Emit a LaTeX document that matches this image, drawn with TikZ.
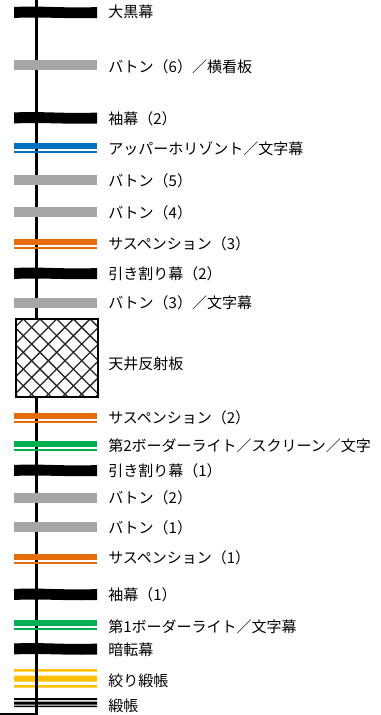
\documentclass[tikz,border=0pt]{standalone}
\usepackage{fontspec}
\setmainfont{Noto Sans CJK JP}
\usepackage{xcolor}
\usepackage{tikz}

\definecolor{batonGray}{RGB}{166,166,166}
\definecolor{horiBlue}{RGB}{0,112,192}
\definecolor{suspOrange}{RGB}{228,108,10}
\definecolor{borderGreen}{RGB}{0,176,80}
\definecolor{donYellow}{RGB}{255,192,0}

\tikzset{
	meisho/.style={anchor=west, inner sep=0pt, font=\fontsize{11.25}{13}\selectfont},
	maku/.pic={\fill[black] (0,-5.5) .. controls (25,-7) and (55,-4) .. (83,-5.5) -- (83,5.5) .. controls (55,6.5) and (25,4) .. (0,5.5) -- cycle;},
	baton/.pic={\fill[batonGray] (0,-5) rectangle (83,5);},
	niju/.pic={\fill[#1] (0,-3) rectangle (83,3); \fill[#1] (0,5.2) rectangle (83,6.8);},
	hatch/.style={gray!30!black, line width=1pt}
}

\begin{document}
\begin{tikzpicture}[x=0.75pt, y=-0.75pt]
	\useasboundingbox (0, 0) rectangle (381, 715);
	% center line
	\draw[line width=1.9pt] (36.5, 0) -- (36.5, 665);

	% curtains
	\pic at (14, 12.5) {maku};
	\pic at (14, 118) {maku};
	\pic at (14, 273.5) {maku};
	\pic at (14, 470.5) {maku};
	\pic at (14, 594.5) {maku};
	\pic at (14, 649) {maku};

	% battens
	\pic at (14, 65) {baton};
	\pic at (14, 179.5) {baton};
	\pic at (14, 211.5) {baton};
	\pic at (14, 302.5) {baton};
	\pic at (14, 497.5) {baton};
	\pic at (14, 527) {baton};

	% lights
	\pic at (14, 146) {niju=horiBlue};
	\pic at (14, 242) {niju=suspOrange};
	\pic at (14, 416) {niju=suspOrange};
	\pic at (14, 444) {niju=borderGreen};
	\pic at (14, 557) {niju=suspOrange};
	\pic at (14, 623) {niju=borderGreen};

	% ceiling reflector
	\fill[white] (16, 319) rectangle (98, 397);
	\begin{scope}
		\clip (16, 319) rectangle (98, 397);
		\foreach \k in {-6,...,11} {
			\draw[hatch] ({23.3+16.7*\k}, 319) -- ++(80, 80);
			\draw[hatch] ({23.3+16.7*\k}, 319) -- ++(-80, 80);
		}
	\end{scope}
	\draw[line width=1.6pt] (16, 319) rectangle (98, 397);

	% drop curtains
	\fill[donYellow]
	(14, 669) rectangle (97, 671.5)
	(14, 675.5) rectangle (97, 681.5)
	(14, 685) rectangle (97, 687.5);
	\fill[black]
	(14, 698) rectangle (97, 700)
	(14, 701.5) rectangle (97, 704.5)
	(14, 705.5) rectangle (97, 707);
	\draw[line width=1.9pt] (36.5, 664) -- (36.5, 714) -- (0, 714);

	% labels
	\node[meisho] (daikuro) at (108, 12) {大黒幕};
	\node[meisho] (baton6) at (108, 67) {バトン（6）／横看板};
	\node[meisho] (sode2) at (108, 119) {袖幕（2）};
	\node[meisho] (upper) at (108, 149) {アッパーホリゾント／文字幕};
	\node[meisho] (baton5) at (108, 181) {バトン（5）};
	\node[meisho] (baton4) at (108, 213) {バトン（4）};
	\node[meisho] (susp3) at (108, 244) {サスペンション（3）};
	\node[meisho] (hiki2) at (108, 274) {引き割り幕（2）};
	\node[meisho] (baton3) at (108, 303) {バトン（3）／文字幕};
	\node[meisho] (hansha) at (108, 363.5) {天井反射板};
	\node[meisho] (susp2) at (108, 418) {サスペンション（2）};
	\node[meisho] (border2) at (108, 446) {第2ボーダーライト／スクリーン／文字};
	\node[meisho] (hiki1) at (108, 471) {引き割り幕（1）};
	\node[meisho] (baton2) at (108, 498) {バトン（2）};
	\node[meisho] (baton1) at (108, 528) {バトン（1）};
	\node[meisho] (susp1) at (108, 558) {サスペンション（1）};
	\node[meisho] (sode1) at (108, 594.5) {袖幕（1）};
	\node[meisho] (border1) at (108, 627) {第1ボーダーライト／文字幕};
	\node[meisho] (anten) at (108, 650) {暗転幕};
	\node[meisho] (shibori) at (108, 681) {絞り緞帳};
	\node[meisho] (donchou) at (108, 706) {緞帳};
\end{tikzpicture}
\end{document}
